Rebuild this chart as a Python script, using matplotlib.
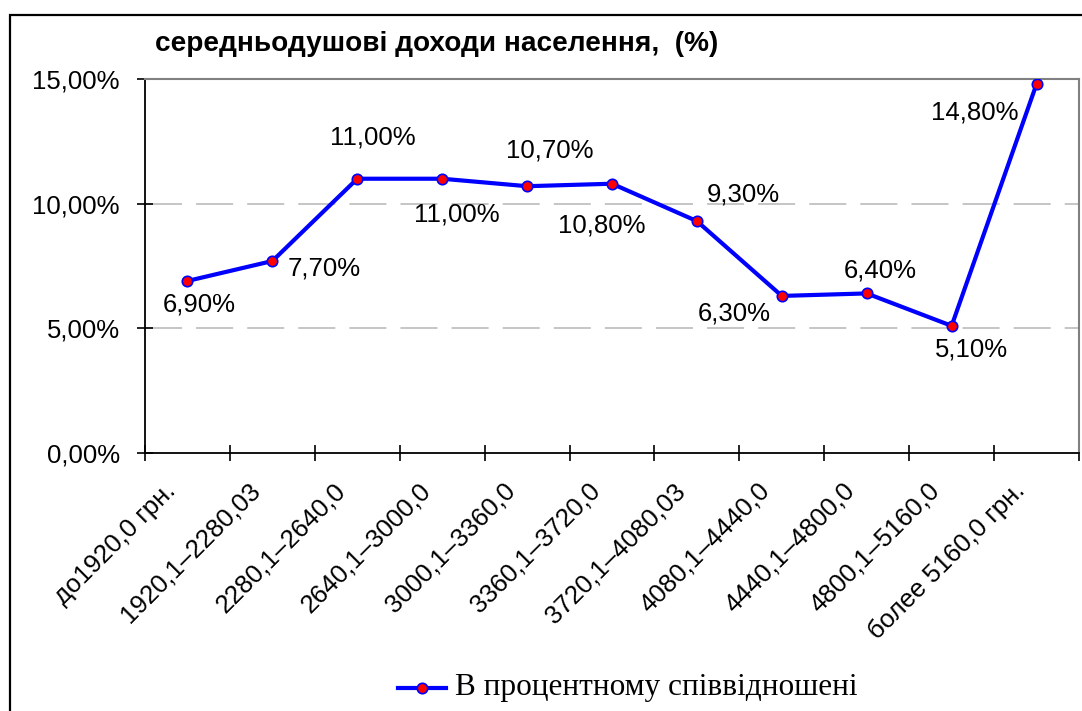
import numpy as np
import matplotlib
matplotlib.use("Agg")
from matplotlib import pyplot as plt
from matplotlib.patches import Rectangle
from matplotlib.lines import Line2D
from matplotlib.transforms import ScaledTranslation

# income groups and their share, %
categories = ["до1920,0 грн.", "1920,1–2280,03", "2280,1–2640,0", "2640,1–3000,0",
              "3000,1–3360,0", "3360,1–3720,0", "3720,1–4080,03", "4080,1–4440,0",
              "4440,1–4800,0", "4800,1–5160,0", "более 5160,0 грн."]
values = [6.9, 7.7, 11.0, 11.0, 10.7, 10.8, 9.3, 6.3, 6.4, 5.1, 14.8]
point_labels = ["6,90%", "7,70%", "11,00%", "11,00%", "10,70%", "10,80%",
                "9,30%", "6,30%", "6,40%", "5,10%", "14,80%"]
y_ticks = [0, 5, 10, 15]
y_ticklabels = ["0,00%", "5,00%", "10,00%", "15,00%"]

title = "середньодушові доходи населення,  (%)"
legend_text = "В процентному співвідношені"

# label offsets in pixels (dx right, dy up)
label_off = [(12, -24), (52, -7), (16, 41), (15, -36), (23, 36), (-10, -42),
             (46, 27), (-48, -18), (14, 23), (20, -24), (-62, -29)]

plt.rcParams['font.family'] = ['Liberation Sans', 'DejaVu Sans']

W, H = 1082, 711
fig = plt.figure(figsize=(W / 100, H / 100), dpi=100)
ax = fig.add_axes([145 / W, 1 - 453 / H, (1079 - 145) / W, (453 - 79) / H])

x = np.arange(len(values))
ax.plot(x, values, color="#0000ff", lw=3, marker="o", ms=7.5,
        mfc="red", mec="#0000ff", mew=1.2, zorder=3)

for xi, v, lab, (dx, dy) in zip(x, values, point_labels, label_off):
    ax.annotate(lab, (xi, v), xytext=(dx, dy), textcoords="offset pixels",
                ha="center", va="center", fontsize=18.5, color="black")

ax.set_xlim(-0.5, len(values) - 0.5)
ax.set_ylim(0, 15)

# gridlines
for g in [5, 10]:
    ax.axhline(g, color="#c0c0c0", lw=1.3, dashes=(20.5, 7.8), zorder=1)

ax.spines["top"].set_color("#808080")
ax.spines["right"].set_color("#808080")
ax.spines["top"].set_linewidth(1.5)
ax.spines["right"].set_linewidth(1.5)
ax.spines["left"].set_linewidth(1.3)
ax.spines["bottom"].set_linewidth(1.3)

ax.set_yticks(y_ticks)
ax.set_yticklabels(y_ticklabels, fontsize=18.5)
ax.tick_params(axis="y", direction="inout", length=12, width=1.2, pad=12)

ax.set_xticks(np.arange(len(values) + 1) - 0.5)
ax.set_xticklabels([])
ax.tick_params(axis="x", which="major", direction="inout", length=12, width=1.2)
ax.set_xticks(x, minor=True)
ax.set_xticklabels(categories, minor=True, rotation=45, ha="right",
                   rotation_mode="anchor", fontsize=18.5)
ax.tick_params(axis="x", which="minor", length=0, pad=12)
shift = ScaledTranslation(-24 / 100, -9 / 100, fig.dpi_scale_trans)
for t in ax.get_xticklabels(minor=True):
    t.set_transform(t.get_transform() + shift)

fig.text(155 / W, 1 - 44 / H, title, fontsize=20.2, fontweight="bold",
         ha="left", va="center")

# legend
ly = 1 - 688 / H
fig.add_artist(Line2D([398 / W, 446 / W], [ly, ly], color="#0000ff", lw=3,
                      transform=fig.transFigure))
fig.add_artist(Line2D([422 / W], [ly], color="#0000ff", marker="o", ms=7.5,
                      mfc="red", mec="#0000ff", mew=1.2, transform=fig.transFigure))
fig.text(455 / W, ly, legend_text, family="Liberation Serif", fontsize=22.5,
         ha="left", va="center")

# outer frame
fig.add_artist(Rectangle((10 / W, -0.1), 1.2, 1 - 15 / H + 0.1, fill=False,
                         ec="black", lw=1.6, transform=fig.transFigure))

fig.savefig("out.png", dpi=100)
